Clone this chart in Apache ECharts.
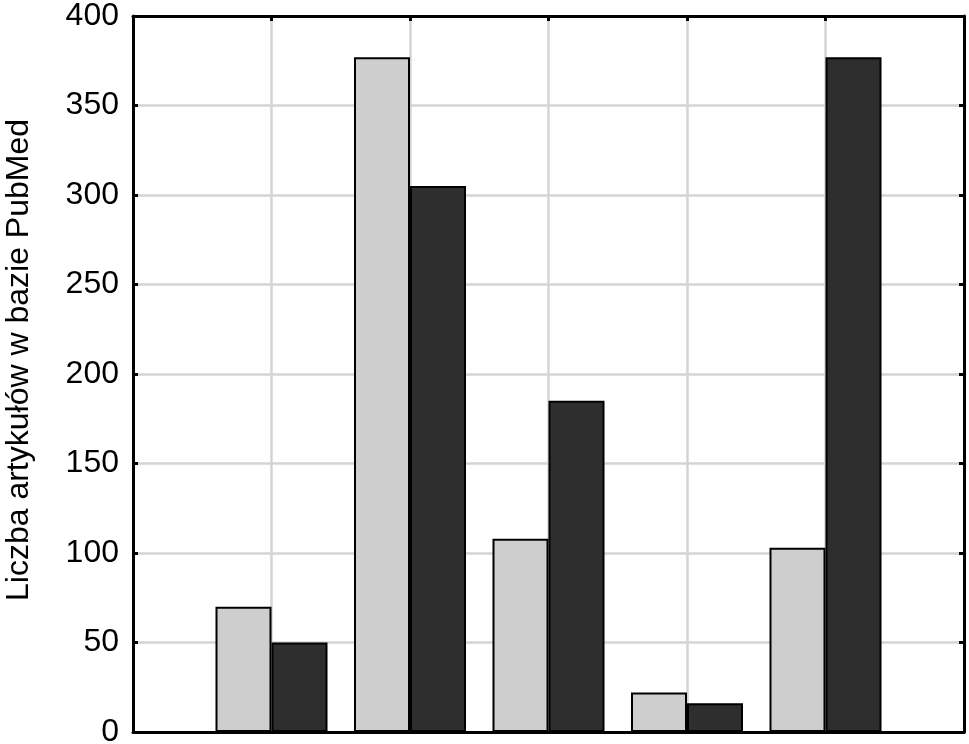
<!DOCTYPE html>
<html>
<head>
<meta charset="utf-8">
<script src="https://cdn.jsdelivr.net/npm/echarts@6/dist/echarts.min.js"></script>
<style>
html, body { margin: 0; padding: 0; background: #fff; }
#main { width: 969px; height: 744px; }
</style>
</head>
<body>
<div id="main"></div>
<script>
// pozycje grup na osi X (1..5), bez podpisów
var positions = [1, 2, 3, 4, 5];
var lightValues = [70, 377, 108, 22, 103];
var darkValues = [50, 305, 185, 16, 377];
var yTicks = [0, 50, 100, 150, 200, 250, 300, 350, 400];
var yName = 'Liczba artykułów w bazie PubMed';

function pairs(vals) {
	return positions.map(function (p, i) { return [p, vals[i]]; });
}

var myChart = echarts.init(document.getElementById('main'));

var fontFam = '"Liberation Sans", Arial, sans-serif';
var frameLine = { show: true, onZero: false, lineStyle: { color: '#000', width: 3 } };
var innerTick = { show: true, inside: true, length: 5, lineStyle: { color: '#000', width: 3 } };
var gridLine = { show: true, lineStyle: { color: '#d4d4d4', width: 2.5 } };

var option = {
	animation: false,
	backgroundColor: '#fff',
	grid: { left: 133, right: 5, top: 16, bottom: 12, containLabel: false, outerBoundsMode: 'none' },
	xAxis: [{
		type: 'value', min: 0, max: 6, interval: 1, position: 'bottom',
		axisLine: frameLine,
		axisTick: { show: false },
		axisLabel: { show: false },
		splitLine: gridLine
	}, {
		type: 'value', min: 0, max: 6, interval: 1, position: 'top',
		axisLine: frameLine,
		axisTick: innerTick,
		axisLabel: { show: false },
		splitLine: { show: false }
	}],
	yAxis: [{
		type: 'value', min: yTicks[0], max: yTicks[yTicks.length - 1], interval: 50,
		name: yName, nameLocation: 'middle', nameRotate: 90, nameGap: 98,
		nameTextStyle: { color: '#000', fontSize: 32, fontFamily: fontFam, padding: [0, 0, 0, 28] },
		axisLine: frameLine,
		axisTick: innerTick,
		axisLabel: { color: '#000', fontSize: 32, fontFamily: fontFam, margin: 14 },
		splitLine: gridLine
	}, {
		type: 'value', min: 0, max: 400, interval: 50, position: 'right',
		axisLine: frameLine,
		axisTick: innerTick,
		axisLabel: { show: false },
		splitLine: { show: false }
	}],
	series: [{
		type: 'bar', xAxisIndex: 0, yAxisIndex: 0,
		data: pairs(lightValues), barWidth: 56, barGap: '0%',
		itemStyle: { color: '#cecece', borderColor: '#000', borderWidth: 2 }
	}, {
		type: 'bar', xAxisIndex: 0, yAxisIndex: 0,
		data: pairs(darkValues), barWidth: 56, barGap: '0%',
		itemStyle: { color: '#2e2e2e', borderColor: '#000', borderWidth: 2 }
	}]
};

myChart.setOption(option);
</script>
</body>
</html>
